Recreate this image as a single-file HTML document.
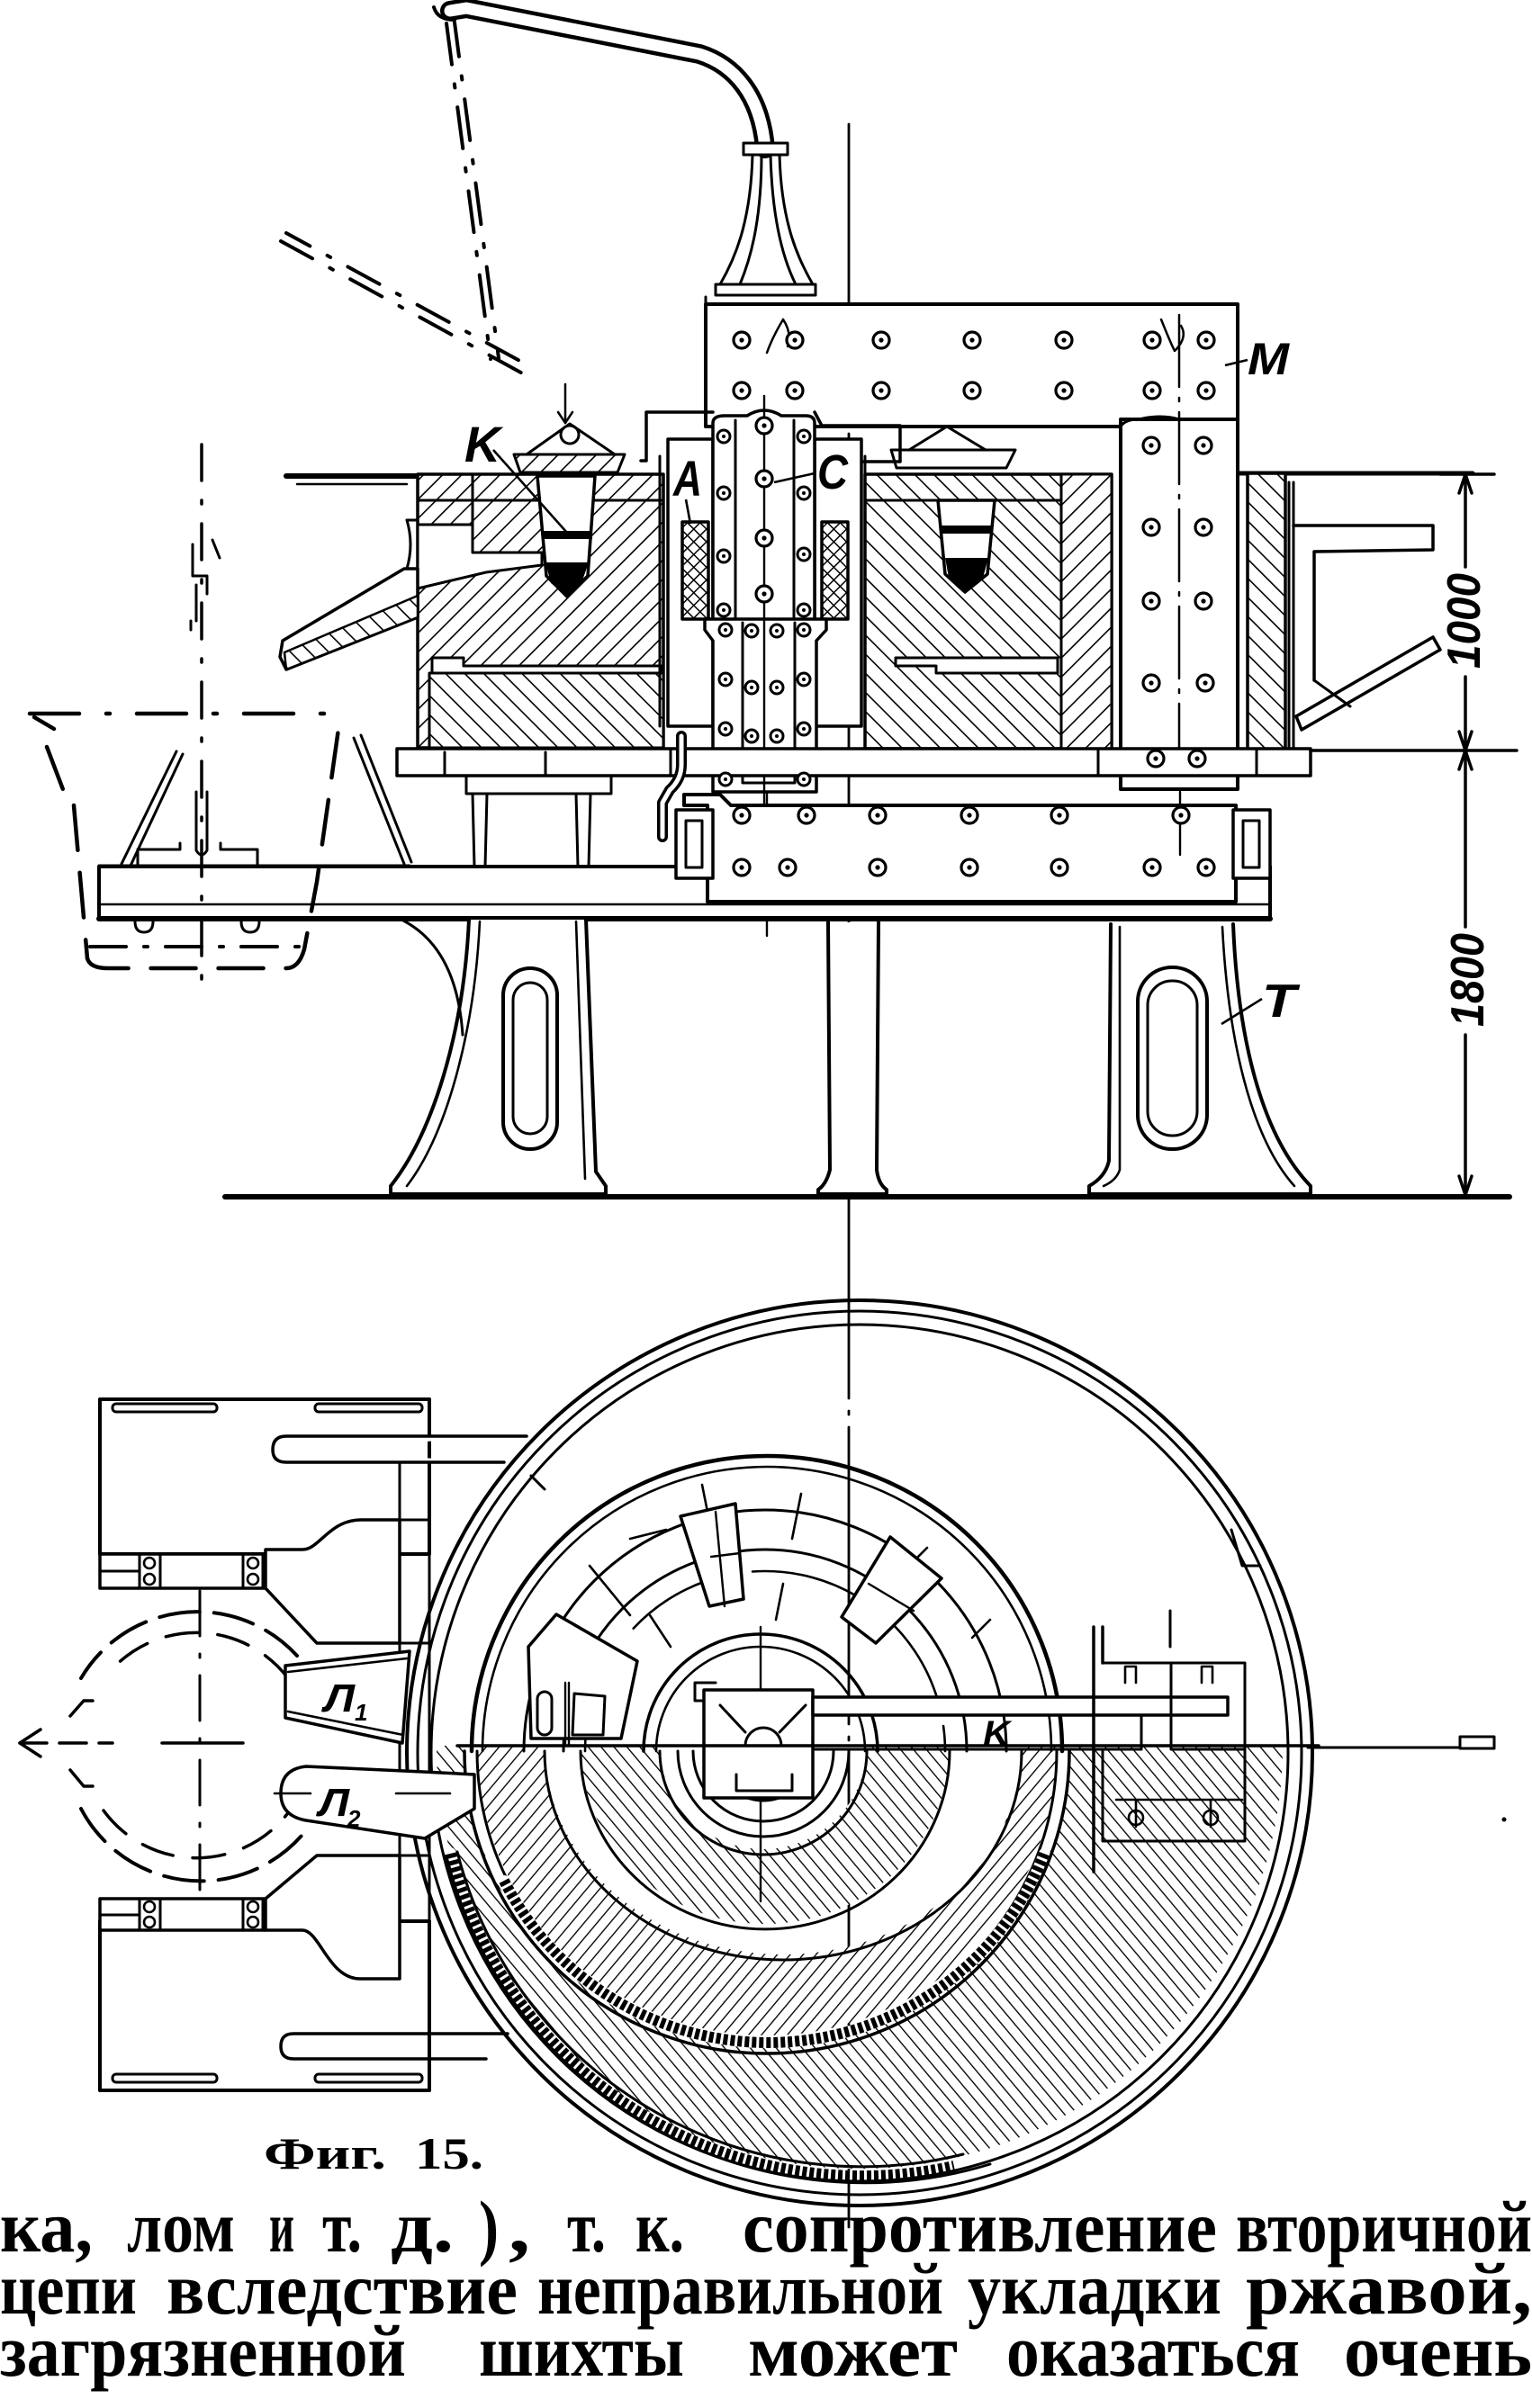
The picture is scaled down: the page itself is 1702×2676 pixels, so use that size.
<!DOCTYPE html>
<html><head><meta charset="utf-8"><style>
html,body{margin:0;padding:0;background:#fff;}
svg{display:block;}
</style></head><body>
<svg xmlns="http://www.w3.org/2000/svg" xmlns:xlink="http://www.w3.org/1999/xlink" width="1702" height="2676" viewBox="0 0 1702 2676">
<defs>
<pattern id="hf" width="15" height="15" patternUnits="userSpaceOnUse" patternTransform="rotate(45)"><rect width="15" height="15" fill="#fff"/><line x1="0" y1="0" x2="0" y2="15" stroke="#000" stroke-width="3.2"/></pattern>
<pattern id="hb" width="15" height="15" patternUnits="userSpaceOnUse" patternTransform="rotate(-45)"><rect width="15" height="15" fill="#fff"/><line x1="0" y1="0" x2="0" y2="15" stroke="#000" stroke-width="3.2"/></pattern>
<pattern id="pf" width="11" height="11" patternUnits="userSpaceOnUse" patternTransform="rotate(40)"><rect width="11" height="11" fill="#fff"/><line x1="0" y1="0" x2="0" y2="11" stroke="#000" stroke-width="2.7"/></pattern>
<pattern id="pb" width="11" height="11" patternUnits="userSpaceOnUse" patternTransform="rotate(-40)"><rect width="11" height="11" fill="#fff"/><line x1="0" y1="0" x2="0" y2="11" stroke="#000" stroke-width="2.7"/></pattern>
<pattern id="cx" width="10" height="10" patternUnits="userSpaceOnUse" patternTransform="rotate(45)"><rect width="10" height="10" fill="#fff"/><line x1="0" y1="0" x2="0" y2="10" stroke="#000" stroke-width="3"/><line x1="0" y1="0" x2="10" y2="0" stroke="#000" stroke-width="3"/></pattern>
<g id="b"><circle r="9" fill="#fff" stroke="#000" stroke-width="3.2"/><circle r="2.6" fill="#000"/></g>
<g id="bs"><circle r="7" fill="#fff" stroke="#000" stroke-width="3"/><circle r="2" fill="#000"/></g>
</defs>
<rect width="1702" height="2676" fill="#fff"/>

<g fill="none" stroke="#000" stroke-width="3.5" stroke-linecap="round" stroke-linejoin="round">

<!-- pipe -->
<path d="M500,12 L518,9 L777,60 C815,72 845,105 850,165" stroke-width="22"/>
<path d="M500,12 L518,9 L777,60 C815,72 845,105 850,165" stroke="#fff" stroke-width="13"/>
<path d="M482,8 Q486,22 505,22" stroke-width="4"/>
<rect x="826" y="159" width="49" height="13" fill="#fff" stroke-width="3"/>
<path d="M836,172 C834,250 815,290 800,316 M866,172 C868,250 888,290 903,316 M846,172 C846,250 832,292 822,316 M856,172 C858,250 872,292 884,316" stroke-width="3"/>
<rect x="795" y="316" width="111" height="12" fill="#fff" stroke-width="3"/>

<!-- dashed electrode swing lines -->
<path d="M496,26 L545,399" stroke-width="4" stroke-dasharray="46 22 4 22"/>
<path d="M505,25 L554,398" stroke-width="4" stroke-dasharray="46 22 4 22" stroke-dashoffset="8"/>
<path d="M312,268 L586,418" stroke-width="4" stroke-dasharray="40 22 4 22"/>
<path d="M318,259 L592,409" stroke-width="4" stroke-dasharray="40 22 4 22" stroke-dashoffset="10"/>

<!-- centerlines -->
<path d="M943,138 L943,2475" stroke-width="2.8" stroke-dasharray="330 14 4 14"/>
<path d="M852,340 L852,1040" stroke-width="2.4"/>

<!-- top plate flanges -->
<path d="M318,529 L466,529" stroke-width="6"/>
<path d="M330,538 L452,538" stroke-width="2.5"/>
<path d="M1375,526 L1636,526" stroke-width="5"/>

<!-- left body hatched -->
<rect x="464" y="527" width="273" height="304" fill="url(#hf)"/>
<rect x="477" y="748" width="260" height="83" fill="url(#hb)" stroke-width="3"/>
<polygon points="464,583 525,583 525,614 602,614 602,628 540,636 464,654" fill="#fff" stroke-width="3"/>
<path d="M525,527 L525,583 M464,556 L737,556" stroke-width="3"/>
<path d="M480,731 L515,731 L515,740 L735,740 L735,748 L480,748 Z" fill="#fff" stroke-width="3"/>
<polygon points="597,529 661,529 653,640 630,663 607,640" fill="#fff" stroke-width="3.5"/>
<rect x="602" y="590" width="56" height="9" fill="#000" stroke="none"/>
<polygon points="606,625 654,625 646,648 630,662 612,648" fill="#000" stroke="none"/>
<polygon points="571,505 694,505 686,525 578,525" fill="url(#hf)" stroke-width="3"/>
<path d="M585,505 L633,471 L683,505" stroke-width="3"/>
<circle cx="633" cy="483" r="10" fill="#fff" stroke-width="3"/>
<path d="M628,427 L628,470" stroke-width="2.5"/>
<path d="M620,458 L628,470 L636,458" stroke-width="2.5"/>

<!-- left trough -->
<polygon points="314,712 449,632 464,632 464,686 318,744 311,730" fill="#fff" stroke-width="3.5"/>
<polygon points="318,744 464,686 464,662 316,725" fill="url(#hb)" stroke-width="2.5"/>
<path d="M452,578 L464,578 M452,578 Q460,605 452,632" stroke-width="3"/>

<!-- right body hatched -->
<rect x="961" y="527" width="274" height="305" fill="url(#hb)"/>
<rect x="1179" y="527" width="56" height="305" fill="url(#hf)" stroke-width="3"/>
<path d="M961,556 L1179,556" stroke-width="3"/>
<path d="M995,731 L1175,731 L1175,748 L1040,748 L1040,740 L995,740 Z" fill="#fff" stroke-width="3"/>
<polygon points="1042,556 1105,556 1097,638 1072,658 1050,638" fill="#fff" stroke-width="3.5"/>
<rect x="1046" y="584" width="55" height="9" fill="#000" stroke="none"/>
<polygon points="1050,620 1098,620 1092,642 1072,658 1054,642" fill="#000" stroke="none"/>
<polygon points="990,500 1128,500 1118,520 996,520" fill="#fff" stroke-width="3"/>
<path d="M1010,500 L1052,474 L1095,500" stroke-width="3"/>
<path d="M1062,474 L1062,454" stroke-width="2.5"/>

<!-- outer right wall -->
<rect x="1386" y="526" width="42" height="308" fill="url(#hb)"/>
<path d="M1432,536 L1432,834 M1437,536 L1437,834" stroke-width="3"/>
<path d="M1437,584 L1592,584 L1592,611 L1460,613 L1460,756" stroke-width="3.5"/>
<polygon points="1440,796 1592,708 1600,722 1446,811" fill="#fff" stroke-width="3.5"/>
<path d="M1460,756 L1500,785" stroke-width="3"/>

<!-- M yoke -->
<rect x="784" y="338" width="591" height="136" fill="#fff" stroke-width="4"/>
<path d="M784,330 L784,338" stroke-width="3"/>
<rect x="1245" y="466" width="130" height="411" fill="#fff" stroke-width="4"/>
<path d="M1245,474 Q1250,466 1265,466 Q1290,460 1310,466 L1375,466" stroke-width="3"/>
<path d="M1310,350 L1310,860" stroke-width="2.5" stroke-dasharray="80 12 4 12"/>
<path d="M1290,355 Q1300,380 1305,390 Q1320,375 1312,362" stroke-width="2.5"/>
<path d="M870,355 Q858,375 852,392 M870,355 Q880,370 875,385" stroke-width="2.5"/>

<!-- column frames (A) -->
<path d="M718,458 L792,458 M718,458 L718,512 L712,512" stroke-width="3.5"/>
<rect x="742" y="488" width="50" height="319" fill="#fff" stroke-width="3.5"/>
<path d="M733,507 L733,807" stroke-width="3"/>
<rect x="905" y="488" width="52" height="319" fill="#fff" stroke-width="3.5"/>
<path d="M961,507 L961,807" stroke-width="3"/>
<path d="M905,458 L913,473 L1000,473 L1000,513 L958,513" stroke-width="3.5"/>
<rect x="758" y="580" width="29" height="108" fill="url(#cx)" stroke-width="3.5"/>
<rect x="913" y="580" width="29" height="108" fill="url(#cx)" stroke-width="3.5"/>

<!-- column C -->
<path d="M792,688 L792,470 Q792,462 805,462 L830,462 Q849,450 868,462 L895,462 Q905,462 905,470 L905,688" fill="#fff" stroke-width="3.5"/>
<path d="M817,467 L817,688 M882,467 L882,688" stroke-width="3"/>
<path d="M783,688 L918,688 L918,700 L907,712 L907,880 L792,880 L792,712 L783,700 Z" fill="#fff" stroke-width="3.5"/>
<path d="M825,692 L825,870 L883,870 L883,692" stroke-width="3"/>
<path d="M849,440 L849,900" stroke-width="2.4"/>

<!-- left support stand -->
<rect x="518" y="861" width="161" height="21" fill="#fff" stroke-width="3"/>
<path d="M525,882 L527,963 M541,882 L539,963 M640,882 L642,963 M656,882 L654,963" stroke-width="3"/>

<!-- frame under body -->
<rect x="441" y="832" width="1015" height="30" fill="#fff" stroke-width="3.5"/>
<path d="M494,836 L494,860 M606,836 L606,860 M745,832 L745,862 M1220,832 L1220,862 M1396,832 L1396,862" stroke-width="3"/>
<path d="M757,818 L757,850 Q757,866 744,878 L736,892 L736,930" stroke-width="12"/>
<path d="M757,818 L757,850 Q757,866 744,878 L736,892 L736,930" stroke="#fff" stroke-width="5"/>

<!-- beam -->
<rect x="110" y="963" width="1301" height="58" fill="#fff" stroke-width="4"/>
<path d="M110,1005 L1411,1005" stroke-width="2.5"/>
<path d="M110,1021 L1411,1021" stroke-width="6"/>
<path d="M150,1024 Q150,1036 160,1036 Q170,1036 170,1024 M268,1024 Q268,1036 278,1036 Q288,1036 288,1024" stroke-width="3"/>

<!-- lower yoke -->
<path d="M786,895 L760,895 L760,883 L800,883 L812,895 L1373,895 L1373,1002 L786,1002 Z" fill="#fff" stroke-width="4"/>
<rect x="751" y="900" width="41" height="76" fill="#fff" stroke-width="3.5"/>
<rect x="762" y="912" width="18" height="52" stroke-width="3"/>
<rect x="1370" y="900" width="41" height="76" fill="#fff" stroke-width="3.5"/>
<rect x="1381" y="912" width="18" height="52" stroke-width="3"/>
<path d="M1311,880 L1311,950" stroke-width="2.4"/>

<!-- pedestals -->
<path d="M521,1022 C515,1150 480,1260 434,1318 L434,1327 L673,1327 L673,1318 L662,1302 L651,1022" fill="#fff" stroke-width="4"/>
<path d="M533,1024 C527,1150 495,1262 452,1318 M640,1024 L650,1310" stroke-width="2.6"/>
<path d="M448,1023 C490,1045 510,1090 514,1150" stroke-width="3"/>
<rect x="559" y="1076" width="60" height="201" rx="30" fill="#fff" stroke-width="4"/>
<rect x="570" y="1092" width="38" height="168" rx="19" stroke-width="3"/>
<path d="M1234,1027 L1232,1290 Q1228,1308 1210,1318 L1210,1327 L1456,1327 L1456,1318 C1400,1260 1375,1150 1370,1027" fill="#fff" stroke-width="4"/>
<path d="M1244,1030 L1244,1300 Q1240,1312 1226,1318 M1358,1030 C1364,1150 1388,1262 1438,1318" stroke-width="2.6"/>
<rect x="1264" y="1075" width="77" height="202" rx="38" fill="#fff" stroke-width="4"/>
<rect x="1275" y="1090" width="55" height="172" rx="27" stroke-width="3"/>
<path d="M920,1025 L922,1300 Q918,1316 909,1322 L909,1327 L985,1327 L985,1322 Q976,1316 974,1300 L976,1025" fill="#fff" stroke-width="4"/>
<path d="M250,1330 L1677,1330" stroke-width="6"/>

<!-- dimension -->
<path d="M1628,527 L1628,630 M1628,752 L1628,1030 M1628,1150 L1628,1328" stroke-width="3.5"/>
<path d="M1600,527 L1660,527 M1456,834 L1685,834" stroke-width="3.5"/>
<path d="M1621,548 L1628,527 L1635,548 M1621,813 L1628,834 L1635,813 M1621,855 L1628,834 L1635,855 M1621,1307 L1628,1328 L1635,1307" stroke-width="3.5"/>

<!-- dashed ladle -->
<path d="M33,793 L378,793" stroke-width="4.5" stroke-dasharray="55 30 4 30"/>
<path d="M38,797 L60,810 M52,830 L71,880 M82,895 L97,1065" stroke-width="4.5" stroke-dasharray="50 25"/>
<path d="M97,1065 Q100,1076 120,1076 L318,1076 Q332,1076 338,1055 L352,980 L378,796" stroke-width="4.5" stroke-dasharray="50 25"/>
<path d="M100,1052 L345,1052" stroke-width="4" stroke-dasharray="40 20 4 20"/>
<path d="M224,494 L224,1092" stroke-width="3.5" stroke-dasharray="40 22 4 22"/>
<path d="M214,605 L214,640 L230,640 L230,660 M236,600 L244,620 M212,690 L212,700 M218,650 L218,690" stroke-width="3"/>
<path d="M218,880 L218,945 Q224,955 230,945 L230,880" stroke-width="3"/>
<path d="M135,960 L196,835 M145,962 L203,838" stroke-width="3"/>
<path d="M393,820 L449,960 M401,817 L457,958" stroke-width="3"/>
<path d="M153,962 L153,944 L200,944 L200,937 M245,937 L245,944 L286,944 L286,962" stroke-width="3"/>
<path d="M110,962 L455,962" stroke-width="3"/>
</g>

<!-- bolts top -->
<g>
<use href="#b" x="824" y="378"/><use href="#b" x="883" y="378"/><use href="#b" x="979" y="378"/><use href="#b" x="1080" y="378"/><use href="#b" x="1182" y="378"/><use href="#b" x="1280" y="378"/><use href="#b" x="1340" y="378"/>
<use href="#b" x="824" y="434"/><use href="#b" x="883" y="434"/><use href="#b" x="979" y="434"/><use href="#b" x="1080" y="434"/><use href="#b" x="1182" y="434"/><use href="#b" x="1280" y="434"/><use href="#b" x="1340" y="434"/>
<use href="#b" x="1279" y="495"/><use href="#b" x="1337" y="495"/><use href="#b" x="1279" y="586"/><use href="#b" x="1337" y="586"/><use href="#b" x="1279" y="668"/><use href="#b" x="1337" y="668"/><use href="#b" x="1279" y="759"/><use href="#b" x="1339" y="759"/><use href="#b" x="1284" y="843"/><use href="#b" x="1330" y="843"/>
<use href="#b" x="849" y="473"/><use href="#b" x="849" y="532"/><use href="#b" x="849" y="598"/><use href="#b" x="849" y="660"/>
<use href="#bs" x="804" y="485"/><use href="#bs" x="893" y="485"/><use href="#bs" x="804" y="548"/><use href="#bs" x="893" y="548"/><use href="#bs" x="804" y="618"/><use href="#bs" x="893" y="616"/><use href="#bs" x="804" y="678"/><use href="#bs" x="893" y="678"/>
<use href="#bs" x="806" y="700"/><use href="#bs" x="835" y="701"/><use href="#bs" x="863" y="701"/><use href="#bs" x="893" y="700"/>
<use href="#bs" x="806" y="755"/><use href="#bs" x="893" y="755"/><use href="#bs" x="835" y="764"/><use href="#bs" x="863" y="764"/>
<use href="#bs" x="806" y="810"/><use href="#bs" x="893" y="810"/><use href="#bs" x="835" y="818"/><use href="#bs" x="863" y="818"/><use href="#bs" x="806" y="866"/><use href="#bs" x="893" y="866"/>
<use href="#b" x="824" y="906"/><use href="#b" x="896" y="906"/><use href="#b" x="975" y="906"/><use href="#b" x="1077" y="906"/><use href="#b" x="1177" y="906"/><use href="#b" x="1312" y="906"/>
<use href="#b" x="824" y="964"/><use href="#b" x="875" y="964"/><use href="#b" x="975" y="964"/><use href="#b" x="1077" y="964"/><use href="#b" x="1177" y="964"/><use href="#b" x="1280" y="964"/><use href="#b" x="1340" y="964"/>
</g>

<g font-family="'Liberation Sans', sans-serif" font-style="italic" font-weight="bold" fill="#000">
<text x="516" y="513" font-size="56" textLength="40" lengthAdjust="spacingAndGlyphs">K</text>
<text x="748" y="551" font-size="56" textLength="32" lengthAdjust="spacingAndGlyphs">A</text>
<text x="908" y="543" font-size="54" textLength="34" lengthAdjust="spacingAndGlyphs">C</text>
<text x="1386" y="416" font-size="50" textLength="46" lengthAdjust="spacingAndGlyphs">M</text>
<text x="1402" y="1130" font-size="52" textLength="38" lengthAdjust="spacingAndGlyphs">T</text>
<text x="0" y="0" font-size="52" textLength="106" lengthAdjust="spacingAndGlyphs" transform="translate(1644,743) rotate(-90)">1000</text>
<text x="0" y="0" font-size="52" textLength="104" lengthAdjust="spacingAndGlyphs" transform="translate(1648,1141) rotate(-90)">1800</text>
</g>
<g fill="none" stroke="#000" stroke-width="2.6">
<path d="M548,500 L630,592"/><path d="M762,555 L767,582"/><path d="M905,526 L860,536"/><path d="M1361,406 L1386,400"/><path d="M1357,1138 L1402,1110"/>
</g>

<!-- ===== PLAN VIEW ===== -->
<g fill="none" stroke="#000" stroke-width="3.5" stroke-linecap="round" stroke-linejoin="round">
<path fill-rule="evenodd" fill="url(#pb)" stroke="none" d="M485,1940 A470,470 0 1 0 1425,1940 Z M516,1940 A336,336 0 1 0 1188,1940 Z"/>
<path fill-rule="evenodd" fill="url(#pf)" stroke="none" d="M530,1940 A322,322 0 1 0 1174,1940 Z M605,1940 A265,232 0 1 0 1135,1940 Z"/>
<path fill-rule="evenodd" fill="url(#pb)" stroke="none" d="M645,1940 A205,198 0 1 0 1055,1940 Z M733,1940 A115,115 0 1 0 963,1940 Z"/>
<path d="M605,1946 A265,232 0 0 0 1135,1946" stroke-width="3"/>
<path d="M645,1946 A205,198 0 0 0 1055,1946" stroke-width="3"/>
<path d="M733,1946 A115,115 0 0 0 963,1946 M753,1946 A95,95 0 0 0 943,1946 M770,1946 A78,78 0 0 0 926,1946 M793,1946 A55,55 0 0 0 903,1946" stroke-width="3"/>

<path d="M530,1946 A322,322 0 0 0 1174,1946" stroke-width="3"/>
<path d="M516,1946 A336,336 0 0 0 1188,1946" stroke-width="3.5"/>
<path d="M560,2090 A329,329 0 0 0 1160,2060" stroke="#fff" stroke-width="12"/>
<path d="M560,2090 A329,329 0 0 0 1160,2060" stroke-width="12" stroke-dasharray="5 3" stroke-linecap="butt"/>
<path d="M500,2060 A472,472 0 0 0 1060,2408" stroke="#fff" stroke-width="14"/>
<path d="M500,2060 A472,472 0 0 0 1060,2408" stroke-width="14" stroke-dasharray="5 3" stroke-linecap="butt"/>
<path d="M497,2067 A479,479 0 0 0 1100,2405 M508,2058 A464,464 0 0 0 1070,2394" stroke-width="3"/>

<circle cx="955" cy="1948" r="503" stroke-width="4"/>
<circle cx="955" cy="1948" r="491" stroke-width="3"/>
<circle cx="955" cy="1948" r="476" stroke-width="3"/>
<path d="M590,1640 L605,1655 M1368,1700 L1380,1740 L1400,1740" stroke-width="3"/>

<path d="M524,1946 A328,328 0 0 1 1180,1946" stroke-width="4.5"/>
<path d="M536,1946 A316,316 0 0 1 1168,1946" stroke-width="2.6"/>
<path d="M582,1946 A268,268 0 0 1 1118,1946" stroke-width="3"/>
<path d="M626,1946 A224,224 0 0 1 1074,1946" stroke-width="3"/>
<path d="M650,1946 A200,200 0 0 1 1050,1946" stroke-width="2.6" stroke-dasharray="120 30"/>
<path d="M715,1946 A130,130 0 0 1 975,1946" stroke-width="3.5"/>
<path d="M729,1946 A116,116 0 0 1 961,1946" stroke-width="2.6"/>
<path d="M655,1740 L700,1795 M722,1795 L745,1830 M780,1650 L790,1700 M890,1660 L880,1710 M870,1760 L862,1800 M1010,1740 L1030,1720 M1080,1820 L1100,1800 M700,1710 L740,1700" stroke-width="2.6"/>
<path d="M845,1808 L845,2113" stroke-width="2.4"/>

<polygon points="756,1685 817,1671 826,1777 788,1785" fill="#fff" stroke-width="3.5"/>
<path d="M790,1730 L822,1726 M795,1680 L805,1785" stroke-width="2.4"/>
<polygon points="989,1708 1046,1754 973,1826 935,1797" fill="#fff" stroke-width="3.5"/>
<path d="M965,1760 L1015,1790" stroke-width="2.4"/>
<path d="M618,1794 L708,1846 L690,1932 L590,1932 L587,1830 Z" fill="#fff" stroke-width="3.5"/>
<rect x="597" y="1880" width="16" height="48" rx="8" stroke-width="3"/>
<path d="M638,1882 L672,1885 L670,1928 L636,1928 Z" stroke-width="3"/>
<path d="M628,1870 L628,1940 M632,1870 L632,1940" stroke-width="2.4"/>

<rect x="782" y="1878" width="121" height="120" fill="#fff" stroke-width="3.5"/>
<path d="M782,1890 L772,1890 L772,1870 L795,1870" stroke-width="3"/>
<path d="M828,1940 A20,20 0 0 1 868,1940" stroke-width="3"/>
<path d="M800,1895 L828,1925 M895,1895 L866,1925 M818,1972 L818,1990 L880,1990 L880,1972" stroke-width="3"/>
<rect x="903" y="1886" width="461" height="20" fill="#fff" stroke-width="3.5"/>
<path d="M903,1944 L1268,1944 L1268,1906" stroke-width="3"/>
<path d="M1301,1848 L1301,1944 L1383,1944 M1225,1848 L1383,1848 L1383,2046 L1225,2046 L1225,1944" stroke-width="3"/>
<path d="M1215,1808 L1215,2080 M1225,1808 L1225,1848" stroke-width="3.5"/>
<path d="M1250,1870 L1250,1852 L1262,1852 L1262,1870 M1335,1870 L1335,1852 L1347,1852 L1347,1870" stroke-width="2.6"/>
<path d="M1240,2000 L1380,2000 M1262,2000 L1262,2030 M1345,2000 L1345,2030" stroke-width="2.6"/>
<circle cx="1262" cy="2020" r="8" stroke-width="2.6"/><circle cx="1345" cy="2020" r="8" stroke-width="2.6"/>
<path d="M1300,1790 L1300,1830" stroke-width="3"/>

<path d="M508,1940 L1465,1940" stroke-width="3.5"/>
<path d="M1453,1942 L1660,1942" stroke-width="3"/>
<rect x="1622" y="1930" width="38" height="13" fill="#fff" stroke-width="3"/>
<circle cx="1671" cy="2022" r="2.5" fill="#000" stroke="none"/>

<rect x="111" y="1555" width="366" height="172" fill="#fff" stroke-width="4"/>
<rect x="125" y="1560" width="116" height="9" rx="4" stroke-width="3"/>
<rect x="350" y="1560" width="119" height="9" rx="4" stroke-width="3"/>
<path d="M303,1611 Q303,1596 318,1596 L585,1596 M303,1611 Q303,1625 318,1625 L560,1625" fill="#fff" stroke-width="3.5"/>
<rect x="111" y="1727" width="184" height="38" fill="#fff" stroke-width="3.5"/>
<path d="M155,1727 L155,1765 M178,1727 L178,1765 M270,1727 L270,1765 M292,1727 L292,1765 M111,1746 L155,1746" stroke-width="3"/>
<circle cx="166" cy="1737" r="6" stroke-width="2.6"/><circle cx="166" cy="1755" r="6" stroke-width="2.6"/>
<circle cx="281" cy="1737" r="6" stroke-width="2.6"/><circle cx="281" cy="1755" r="6" stroke-width="2.6"/>
<path d="M295,1722 L336,1722 C355,1722 365,1690 400,1689 L444,1689 L444,1826 L352,1826 L295,1765 Z" fill="#fff" stroke-width="3.5"/>
<path d="M444,1625 L444,2263 M477,1625 L477,2263 M444,1689 L477,1689 M444,1826 L477,1826 M444,2062 L477,2062 M444,2199 L477,2199" stroke-width="3"/>

<rect x="111" y="2135" width="366" height="188" fill="#fff" stroke-width="4"/>
<rect x="125" y="2305" width="116" height="9" rx="4" stroke-width="3"/>
<rect x="350" y="2305" width="119" height="9" rx="4" stroke-width="3"/>
<path d="M312,2274 Q312,2260 326,2260 L564,2260 M312,2274 Q312,2288 326,2288 L540,2288" stroke-width="3.5"/>
<rect x="111" y="2110" width="184" height="35" fill="#fff" stroke-width="3.5"/>
<path d="M155,2110 L155,2145 M178,2110 L178,2145 M270,2110 L270,2145 M292,2110 L292,2145 M111,2128 L155,2128" stroke-width="3"/>
<circle cx="166" cy="2119" r="6" stroke-width="2.6"/><circle cx="166" cy="2136" r="6" stroke-width="2.6"/>
<circle cx="281" cy="2119" r="6" stroke-width="2.6"/><circle cx="281" cy="2136" r="6" stroke-width="2.6"/>
<path d="M295,2110 L352,2062 L444,2062 L444,2199 L400,2199 C365,2199 355,2145 336,2145 L295,2145 Z" fill="#fff" stroke-width="3.5"/>

<path d="M330,1840 A150,150 0 0 0 90,1865 M90,2010 A150,150 0 0 0 335,2040" stroke-width="4" stroke-dasharray="45 16"/>
<path d="M320,1865 A128,128 0 0 0 120,1860 M115,2012 A128,128 0 0 0 322,2012" stroke-width="3.5" stroke-dasharray="36 22"/>
<path d="M78,1907 L93,1890 L103,1890 M78,1967 L93,1985 L103,1985" stroke-width="3.5"/>
<path d="M22,1937 L125,1937" stroke-width="3.5" stroke-dasharray="30 14"/>
<path d="M45,1922 L22,1937 L45,1952" stroke-width="3.5"/>
<path d="M180,1937 L270,1937" stroke-width="3.5"/>
<path d="M222,1768 L222,2118" stroke-width="3" stroke-dasharray="50 20 4 20"/>

<polygon points="317,1851 455,1835 447,1937 317,1909" fill="#fff" stroke-width="3.5"/>
<path d="M320,1858 L452,1843 M320,1902 L448,1928" stroke-width="2.6"/>
<path d="M340,1963 L470,1969 L527,1972 L527,2010 L472,2043 L340,2023 Q312,2018 312,1993 Q312,1966 340,1963 Z" fill="#fff" stroke-width="3.5"/>
<path d="M305,1993 L345,1993 M440,1993 L500,1993" stroke-width="2.6"/>
</g>

<g font-family="'Liberation Sans', sans-serif" font-style="italic" font-weight="bold" fill="#000">
<text x="360" y="1902" font-size="44" textLength="34" lengthAdjust="spacingAndGlyphs">Л</text>
<text x="394" y="1912" font-size="26">1</text>
<text x="354" y="2018" font-size="44" textLength="34" lengthAdjust="spacingAndGlyphs">Л</text>
<text x="386" y="2030" font-size="26">2</text>
<text x="1092" y="1940" font-size="40" textLength="30" lengthAdjust="spacingAndGlyphs">K</text>
</g>

<g font-family="'Liberation Serif', serif" fill="#000" font-weight="bold" font-size="50">
<text x="293" y="2410" textLength="136" lengthAdjust="spacingAndGlyphs">Фиг.</text>
<text x="461" y="2410" textLength="76" lengthAdjust="spacingAndGlyphs">15.</text>
</g>
<g font-family="'Liberation Serif', serif" font-size="82" font-weight="bold" fill="#000">
<text x="0" y="2502" textLength="103" lengthAdjust="spacingAndGlyphs">ка,</text>
<text x="141" y="2502" textLength="120" lengthAdjust="spacingAndGlyphs">лом</text>
<text x="299" y="2502" textLength="28" lengthAdjust="spacingAndGlyphs">и</text>
<text x="358" y="2502" textLength="44" lengthAdjust="spacingAndGlyphs">т.</text>
<text x="434" y="2502" textLength="70" lengthAdjust="spacingAndGlyphs">д.</text>
<text x="532" y="2502" textLength="22" lengthAdjust="spacingAndGlyphs">)</text>
<text x="565" y="2502" textLength="24" lengthAdjust="spacingAndGlyphs">,</text>
<text x="630" y="2502" textLength="43" lengthAdjust="spacingAndGlyphs">т.</text>
<text x="706" y="2502" textLength="54" lengthAdjust="spacingAndGlyphs">к.</text>
<text x="825" y="2502" textLength="527" lengthAdjust="spacingAndGlyphs">сопротивление</text>
<text x="1373" y="2502" textLength="329" lengthAdjust="spacingAndGlyphs">вторичной</text>

<text x="0" y="2571" textLength="152" lengthAdjust="spacingAndGlyphs">цепи</text>
<text x="185" y="2571" textLength="390" lengthAdjust="spacingAndGlyphs">вследствие</text>
<text x="597" y="2571" textLength="451" lengthAdjust="spacingAndGlyphs">неправильной</text>
<text x="1075" y="2571" textLength="282" lengthAdjust="spacingAndGlyphs">укладки</text>
<text x="1384" y="2571" textLength="318" lengthAdjust="spacingAndGlyphs">ржавой,</text>

<text x="0" y="2640" textLength="451" lengthAdjust="spacingAndGlyphs">загрязненной</text>
<text x="532" y="2640" textLength="228" lengthAdjust="spacingAndGlyphs">шихты</text>
<text x="831" y="2640" textLength="233" lengthAdjust="spacingAndGlyphs">может</text>
<text x="1118" y="2640" textLength="326" lengthAdjust="spacingAndGlyphs">оказаться</text>
<text x="1493" y="2640" textLength="209" lengthAdjust="spacingAndGlyphs">очень</text>
</g>
</svg>
</body></html>
